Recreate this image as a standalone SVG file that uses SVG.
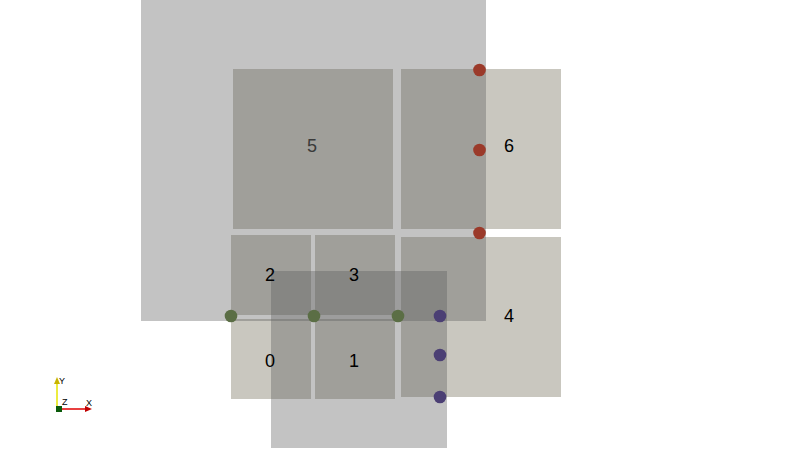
<svg xmlns="http://www.w3.org/2000/svg" width="792" height="468" viewBox="0 0 792 468">
<style>
.cell{fill:#c9c7bf}
.ov{fill:#5a5a5a;fill-opacity:0.364}
.lbl{font-family:"Liberation Sans",Arial,sans-serif;font-size:18px;fill:#000;text-anchor:middle}
.red{fill:#9b3a2a}
.grn{fill:#5b6e45}
.pur{fill:#4b3f74}
.ax{font-family:"Liberation Sans",Arial,sans-serif;font-size:9px;fill:#000}
</style>
<rect width="792" height="468" fill="#ffffff"/>
<g id="cell5"><rect class="cell" x="233" y="69" width="160" height="160"/></g>
<g id="cell6"><rect class="cell" x="401" y="69" width="160" height="160"/></g>
<g id="cell2"><rect class="cell" x="231" y="235" width="80" height="80"/></g>
<g id="cell3"><rect class="cell" x="315" y="235" width="80" height="80"/></g>
<g id="cell0"><rect class="cell" x="231" y="319" width="80" height="80"/></g>
<g id="cell1"><rect class="cell" x="315" y="319" width="80" height="80"/></g>
<g id="cell4"><rect class="cell" x="401" y="237" width="160" height="160"/></g>
<g id="overlay-big"><rect class="ov" x="141" y="0" width="345" height="321"/></g>
<g id="overlay-small"><rect class="ov" x="271" y="271" width="176" height="177"/></g>
<g id="labels">
<text class="lbl" x="312" y="152" style="fill:#3a3a3a">5</text>
<text class="lbl" x="509" y="152">6</text>
<text class="lbl" x="270" y="281">2</text>
<text class="lbl" x="354" y="281">3</text>
<text class="lbl" x="270" y="367">0</text>
<text class="lbl" x="354" y="367">1</text>
<text class="lbl" x="509" y="322">4</text>
</g>
<g id="connectors">
<circle class="red" cx="479.5" cy="70" r="6.3"/>
<circle class="red" cx="479.5" cy="150" r="6.3"/>
<circle class="red" cx="479.5" cy="233" r="6.3"/>
<circle class="grn" cx="231" cy="316" r="6.3"/>
<circle class="grn" cx="314" cy="316" r="6.3"/>
<circle class="grn" cx="398" cy="316" r="6.3"/>
<circle class="pur" cx="440" cy="316" r="6.3"/>
<circle class="pur" cx="440" cy="355" r="6.3"/>
<circle class="pur" cx="440" cy="397" r="6.3"/>
</g>
<g id="axes">
<line x1="57" y1="409" x2="57" y2="384" stroke="#e6e600" stroke-width="1.5"/>
<polygon points="54,384 60,384 57,377" fill="#c8b400"/>
<line x1="59" y1="409" x2="86" y2="409" stroke="#e00000" stroke-width="1.5"/>
<polygon points="85,406 85,412 92,409" fill="#c00000"/>
<rect x="56" y="406" width="6" height="6" fill="#0a5a0a"/>
<text class="ax" x="59" y="384">Y</text>
<text class="ax" x="62" y="405">Z</text>
<text class="ax" x="86" y="406">X</text>
</g>
</svg>
